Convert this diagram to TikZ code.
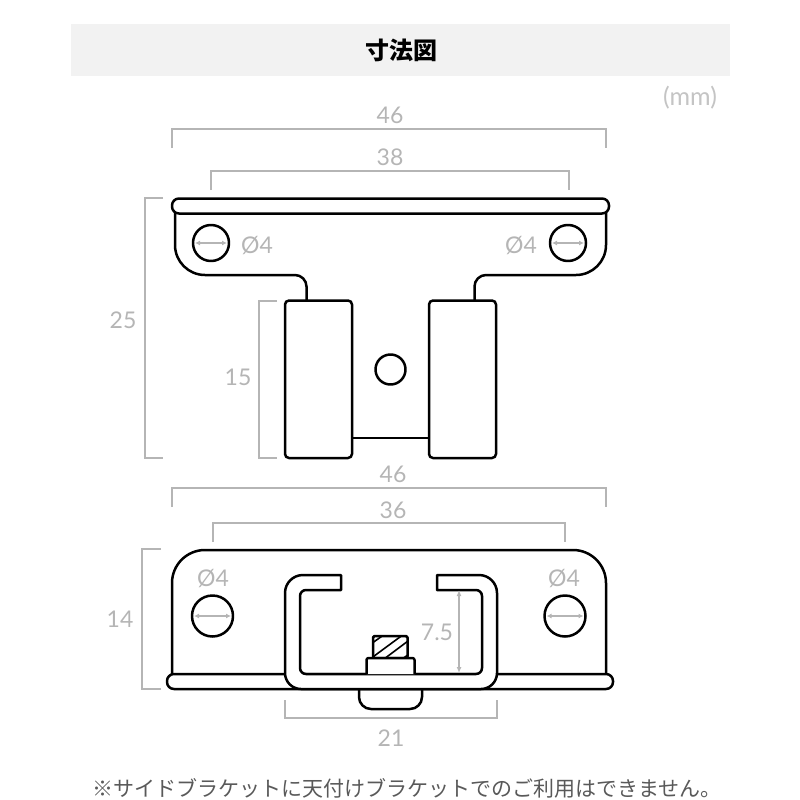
\documentclass[tikz,border=0pt]{standalone}
\usepackage{fontspec}
\setmainfont{Lato}
\newfontfamily\jpfont{Noto Sans CJK JP}
\usepackage{xcolor}
\usetikzlibrary{arrows.meta}
\definecolor{dimgray}{HTML}{B5B5B5}
\definecolor{bandgray}{HTML}{F2F2F2}
\tikzset{
  part/.style={black, line width=2.5pt, line join=round},
  dimline/.style={dimgray, line width=1.5pt},
  dimarrow/.style={dimgray, line width=1.2pt, {Latex[length=5pt,width=5pt]}-{Latex[length=5pt,width=5pt]}},
  dimtext/.style={text=dimgray, font=\fontsize{23}{24}\selectfont, inner sep=0pt}
}
\begin{document}
\begin{tikzpicture}[x=1pt,y=-1pt]
\useasboundingbox (0,0) rectangle (800,800);
\fill[bandgray] (71,24) rectangle (730,76);
\node[font=\jpfont\bfseries\fontsize{24}{26}\selectfont] (title) at (401,50.5) {寸法図};
\node[dimtext, font=\fontsize{25}{26}\selectfont, text=dimgray!80] (unit) at (690,98) {(mm)};

\draw[dimline] (172,148) -- (172,129) -- (606,129) -- (606,148);
\draw[dimline] (211,190) -- (211,171) -- (569,171) -- (569,190);
\draw[dimline] (163,198) -- (145,198) -- (145,458) -- (163,458);
\draw[dimline] (277,301) -- (259,301) -- (259,458) -- (277,458);
\node[dimtext] (topw) at (390,115) {46};
\node[dimtext] (holew) at (390,157) {38};
\node[dimtext] (toph) at (123,320) {25};
\node[dimtext] (padh) at (238,377) {15};

\draw[part] (175,213) -- (175,245) arc[start angle=180, end angle=90, radius=30] -- (295,275) arc[start angle=-90, end angle=0, radius=11.5] -- (306.5,300);
\draw[part] (606,213) -- (606,245) arc[start angle=0, end angle=90, radius=30] -- (486,275) arc[start angle=-90, end angle=-180, radius=11.5] -- (474.5,300);
\draw[part, rounded corners=7pt] (172,198.5) rectangle (609,213.5);
\draw[part] (211,243) circle[radius=18];
\draw[part] (568,243) circle[radius=18];
\draw[dimarrow] (195,243) -- (227,243);
\draw[dimarrow] (552,243) -- (584,243);
\node[dimtext] (holea) at (257,246) {Ø4};
\node[dimtext] (holeb) at (521,246) {Ø4};
\draw[part, rounded corners=4pt] (285,300.5) rectangle (352,458);
\draw[part, rounded corners=4pt] (429,300.5) rectangle (496,458);
\draw[part] (352,438) -- (429,438);
\draw[part] (390.5,369.5) circle[radius=15];

\draw[dimline] (172,507) -- (172,488) -- (606,488) -- (606,507);
\draw[dimline] (213,542) -- (213,523) -- (565,523) -- (565,542);
\draw[dimline] (161,549) -- (142,549) -- (142,689) -- (161,689);
\draw[dimline] (285,700) -- (285,718) -- (497,718) -- (497,700);
\node[dimtext] (basew) at (393,474) {46};
\node[dimtext] (slotw) at (393,510) {36};
\node[dimtext] (baseh) at (120,619) {14};
\node[dimtext] (railw) at (391,738) {21};
\node[dimtext] (raild) at (437,632) {7.5};
\node[dimtext] (holec) at (213,579) {Ø4};
\node[dimtext] (holed) at (564,579) {Ø4};

\draw[part] (172,674) -- (172,583) arc[start angle=180, end angle=270, radius=33] -- (573,550) arc[start angle=-90, end angle=0, radius=33] -- (606,674);
\draw[part, rounded corners=7pt] (167,674) rectangle (613,689);
\draw[part] (212.5,616) circle[radius=20.5];
\draw[part] (565,616) circle[radius=20.5];
\draw[dimarrow] (194,616) -- (231,616);
\draw[dimarrow] (546.5,616) -- (583.5,616);

\draw[part] (359,689) -- (359,697) arc[start angle=180, end angle=90, radius=12] -- (410,709) arc[start angle=90, end angle=0, radius=12] -- (422,689);
\draw[part, fill=white] (341,575) -- (303,575) arc[start angle=-90, end angle=-180, radius=18] -- (285,673) arc[start angle=180, end angle=90, radius=16] -- (481,689) arc[start angle=90, end angle=0, radius=16] -- (497,593) arc[start angle=0, end angle=-90, radius=18] -- (437,575) -- (437,590) -- (476,590) arc[start angle=-90, end angle=0, radius=6] -- (482,668) arc[start angle=0, end angle=90, radius=6] -- (306,674) arc[start angle=90, end angle=180, radius=6] -- (300,596) arc[start angle=180, end angle=270, radius=6] -- (341,590) -- cycle;
\draw[dimline, {Latex[length=6pt,width=5pt]}-{Latex[length=6pt,width=5pt]}] (459,590) -- (459,673);

\begin{scope}
\clip (373,636) rectangle (407.5,658);
\draw[black, line width=1.6pt] (368,646) -- (385,634);
\draw[black, line width=1.6pt] (366,662) -- (404,634);
\draw[black, line width=1.6pt] (380,662) -- (412,638);
\draw[black, line width=1.6pt] (398,662) -- (412,652);
\end{scope}
\draw[part, rounded corners=1.5pt] (373,636) rectangle (407.5,658);
\draw[part, fill=white, rounded corners=2pt] (366.5,674) -- (366.5,658) -- (414.5,658) -- (414.5,674);

\node[font=\jpfont\fontsize{21}{24}\selectfont, text=black!65, inner sep=0pt] (note) at (407,788) {※サイドブラケットに天付けブラケットでのご利用はできません。};
\end{tikzpicture}
\end{document}
